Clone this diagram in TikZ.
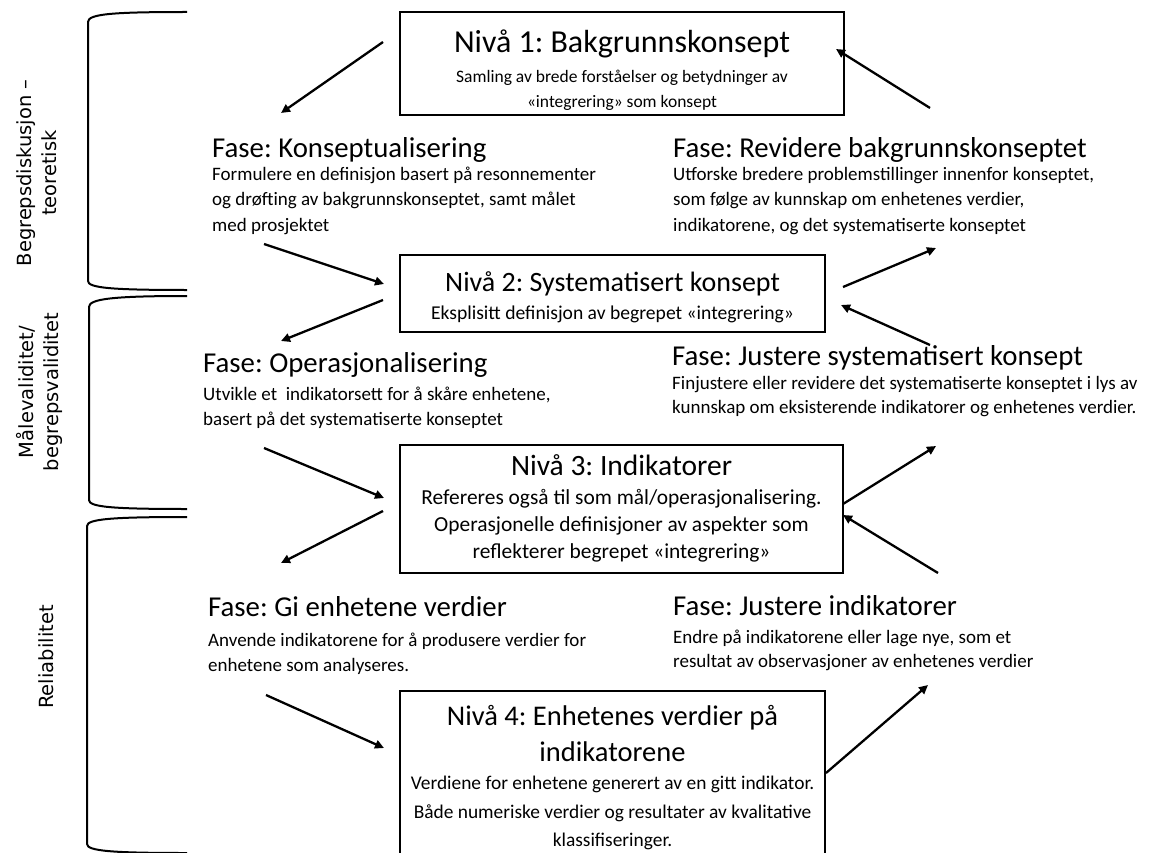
\documentclass[tikz,border=0pt]{standalone}
\usepackage{fontspec}
\setmainfont{Carlito}
\newfontfamily\labelfont{DejaVu Sans}
\usetikzlibrary{arrows.meta}
\begin{document}
\frenchspacing
\begin{tikzpicture}[x=1pt,y=-1pt,
  box/.style={draw, line width=1.8pt, inner sep=0pt},
  boxtext/.style={anchor=north, inner sep=0pt, align=center},
  fase/.style={anchor=north west, inner sep=0pt, align=left},
  arr/.style={line width=2.3pt, -{Triangle[length=9pt,width=8.5pt]}},
  brk/.style={line width=2pt},
  lbl/.style={font=\labelfont\fontsize{19.5}{25}\selectfont, rotate=90, align=center, inner sep=0pt}]
\useasboundingbox (0,0) rectangle (1153,853);
\fill[white] (0,0) rectangle (1153,853);

% boxes
\node[box, minimum width=444, minimum height=103] (n1) at (622,63.5) {};
\node[boxtext, font=\fontsize{17.5}{25.5}\selectfont] (n1t) at (622,30)
  {{\fontsize{32}{34}\selectfont Nivå 1: Bakgrunnskonsept}\\[4pt]
   Samling av brede forståelser og betydninger av\\ «integrering» som konsept};
\node[box, minimum width=425, minimum height=77] (n2) at (612.5,293.5) {};
\node[boxtext, font=\fontsize{19.6}{26}\selectfont] (n2t) at (612.5,271)
  {{\fontsize{28}{30}\selectfont Nivå 2: Systematisert konsept}\\[2pt]
   Eksplisitt definisjon av begrepet «integrering»};
\node[box, minimum width=443, minimum height=128] (n3) at (621.5,509) {};
\node[boxtext, font=\fontsize{21.4}{27}\selectfont] (n3t) at (621.5,454)
  {{\fontsize{29.5}{31}\selectfont Nivå 3: Indikatorer}\\[2pt]
   Refereres også til som mål/operasjonalisering.\\
   Operasjonelle definisjoner av aspekter som\\
   reflekterer begrepet «integrering»};
\node[box, minimum width=425, minimum height=190, anchor=north] (n4) at (612.5,690) {};
\node[boxtext, font=\fontsize{19.4}{28.5}\selectfont] (n4t) at (612.5,705)
  {{\fontsize{28.5}{30}\selectfont Nivå 4: Enhetenes verdier på}\\[7.5pt]
   {\fontsize{28.5}{30}\selectfont indikatorene}\\
   Verdiene for enhetene generert av en gitt indikator.\\
   Både numeriske verdier og resultater av kvalitative\\
   klassifiseringer.};

% phases
\node[fase, font=\fontsize{19}{25.5}\selectfont] (f1) at (212,137)
  {{\fontsize{28.8}{30}\selectfont Fase: Konseptualisering}\\[-2.5pt]
   Formulere en definisjon basert på resonnementer\\
   og drøfting av bakgrunnskonseptet, samt målet\\
   med prosjektet};
\node[fase, font=\fontsize{19}{25.5}\selectfont] (f2) at (673,137)
  {{\fontsize{28.8}{30}\selectfont Fase: Revidere bakgrunnskonseptet}\\[-2.5pt]
   Utforske bredere problemstillinger innenfor konseptet,\\
   som følge av kunnskap om enhetenes verdier,\\
   indikatorene, og det systematiserte konseptet};
\node[fase, font=\fontsize{19}{25}\selectfont] (f3) at (203,352)
  {{\fontsize{28.8}{30}\selectfont Fase: Operasjonalisering}\\[3pt]
   Utvikle et~ indikatorsett for å skåre enhetene,\\
   basert på det systematiserte konseptet};
\node[fase, font=\fontsize{19}{24}\selectfont] (f4) at (672,345)
  {{\fontsize{28.8}{30}\selectfont Fase: Justere systematisert konsept}\\[0.5pt]
   Finjustere eller revidere det systematiserte konseptet i lys av\\
   kunnskap om eksisterende indikatorer og enhetenes verdier.};
\node[fase, font=\fontsize{19}{25}\selectfont] (f5) at (208,596)
  {{\fontsize{28.8}{30}\selectfont Fase: Gi enhetene verdier}\\[5pt]
   Anvende indikatorene for å produsere verdier for\\
   enhetene som analyseres.};
\node[fase, font=\fontsize{19}{24}\selectfont] (f6) at (673,595)
  {{\fontsize{28.8}{30}\selectfont Fase: Justere indikatorer}\\[4pt]
   Endre på indikatorene eller lage nye, som et\\
   resultat av observasjoner av enhetenes verdier};

% side labels
\node[lbl] (l1) at (37,173) {Begrepsdiskusjon –\\teoretisk};
\node[lbl] (l2) at (39,392) {Målevaliditet/\\begrepsvaliditet};
\node[lbl] (l3) at (46,657) {Reliabilitet};

% brackets
\draw[brk] (187,12) .. controls (112,12) and (88,14) .. (88,22) -- (88,281) .. controls (88,288) and (112,290) .. (187,290);
\draw[brk] (187,296) .. controls (112,296) and (89,299) .. (89,307) -- (89,500) .. controls (89,507) and (112,509) .. (187,509);
\draw[brk] (187,517) .. controls (112,517) and (87,519) .. (87,526) -- (87,844) .. controls (87,851) and (112,853) .. (187,853);

% arrow end points
\coordinate (a1s) at (383,42);  \coordinate (a1e) at (281,113);
\coordinate (a2s) at (264,244); \coordinate (a2e) at (384,284);
\coordinate (a3s) at (383,300); \coordinate (a3e) at (281,341);
\coordinate (a4s) at (264,448); \coordinate (a4e) at (384,498);
\coordinate (a5s) at (383,511); \coordinate (a5e) at (281,563);
\coordinate (a6s) at (266,695); \coordinate (a6e) at (384,748);
\coordinate (a7s) at (930,108); \coordinate (a7e) at (836,49);
\coordinate (a8s) at (843,287); \coordinate (a8e) at (936,248);
\coordinate (a9s) at (930,345); \coordinate (a9e) at (841,305);
\coordinate (a10s) at (843,504); \coordinate (a10e) at (936,446);
\coordinate (a11s) at (938,573); \coordinate (a11e) at (843,515);
\coordinate (a12s) at (826,773); \coordinate (a12e) at (928,685);

\draw[arr] (a1s) -- (a1e);
\draw[arr] (a2s) -- (a2e);
\draw[arr] (a3s) -- (a3e);
\draw[arr] (a4s) -- (a4e);
\draw[arr] (a5s) -- (a5e);
\draw[arr] (a6s) -- (a6e);
\draw[arr] (a7s) -- (a7e);
\draw[arr] (a8s) -- (a8e);
\draw[arr] (a9s) -- (a9e);
\draw[arr] (a10s) -- (a10e);
\draw[arr] (a11s) -- (a11e);
\draw[arr] (a12s) -- (a12e);
\end{tikzpicture}
\end{document}
